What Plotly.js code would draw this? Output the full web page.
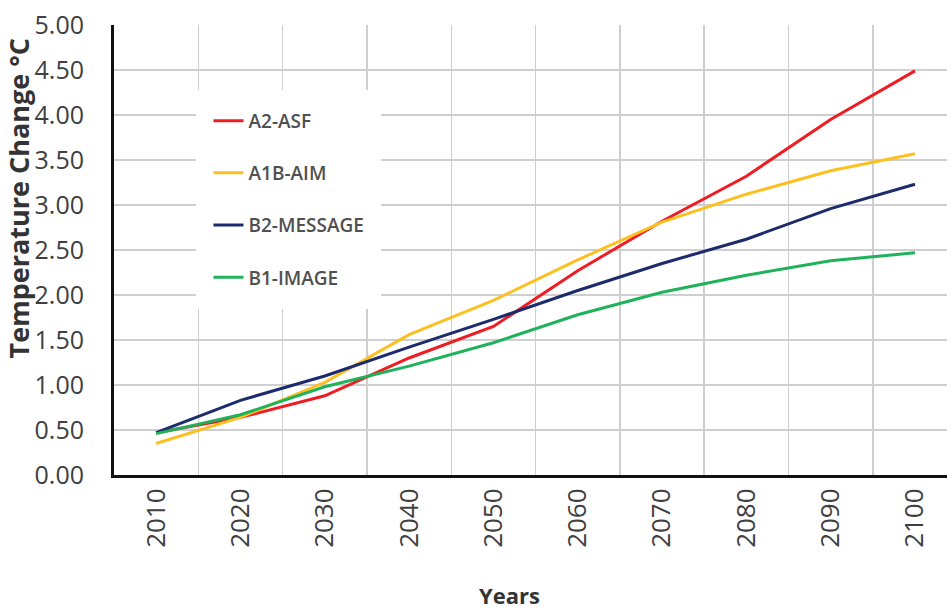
<!DOCTYPE html>
<html>
<head>
<meta charset="utf-8">
<script src="https://cdn.plot.ly/plotly-3.0.1.min.js"></script>
<style>html,body{margin:0;padding:0;background:#fff;}#chart{width:947px;height:610px;}</style>
</head>
<body>
<div id="chart"></div>
<script>
const years = ["2010","2020","2030","2040","2050","2060","2070","2080","2090","2100"];
const a2asf     = [0.47, 0.64, 0.88, 1.30, 1.65, 2.27, 2.82, 3.32, 3.95, 4.49];
const a1baim    = [0.35, 0.64, 1.03, 1.56, 1.94, 2.39, 2.81, 3.12, 3.38, 3.57];
const b2message = [0.47, 0.83, 1.10, 1.42, 1.73, 2.05, 2.35, 2.62, 2.96, 3.23];
const b1image   = [0.46, 0.67, 0.98, 1.21, 1.47, 1.78, 2.03, 2.22, 2.38, 2.47];
const seriesNames = ["A2-ASF","A1B-AIM","B2-MESSAGE","B1-IMAGE"];
const seriesColors = ["#EE1D23","#FCC020","#1C2B6B","#1FB25A"];
const seriesValues = [a2asf, a1baim, b2message, b1image];

const traces = seriesValues.map((vals, i) => ({
  x: years, y: vals, type: "scatter", mode: "lines",
  name: seriesNames[i], legendgroup: "g" + i,
  line: {color: seriesColors[i], width: 3}
}));

const font = "'Open Sans', 'Liberation Sans', sans-serif";
const layout = {
  width: 947, height: 610,
  margin: {l: 114, r: 0, t: 25, b: 135},
  paper_bgcolor: "#fff", plot_bgcolor: "#fff",
  font: {family: font, color: "#404040"},
  showlegend: true,
  legend: {
    x: 0.099, xanchor: "left", y: 0.856, yanchor: "top",
    bgcolor: "#ffffff", bordercolor: "#ffffff", borderwidth: 12,
    traceorder: "grouped", tracegroupgap: 24.5,
    font: {family: font, size: 19, color: "#505050", weight: 600},
    itemwidth: 30
  },
  xaxis: {
    type: "category", range: [-0.5, 9.38],
    tickson: "boundaries", showgrid: true, gridcolor: "#cfcfcf", gridwidth: 1.5,
    showline: true, linecolor: "#111", linewidth: 3,
    ticks: "", tickangle: -90,
    tickfont: {size: 26, color: "#404040"},
    zeroline: false, fixedrange: true
  },
  yaxis: {
    range: [0, 5], dtick: 0.5, tickformat: ".2f",
    showgrid: true, gridcolor: "#cfcfcf", gridwidth: 1.5,
    showline: true, linecolor: "#111", linewidth: 3,
    ticks: "outside", ticklen: 22, tickcolor: "rgba(0,0,0,0)",
    tickfont: {size: 25, color: "#404040"},
    zeroline: false, fixedrange: true
  },
  annotations: [
    {text: "Temperature Change °C", xref: "paper", yref: "paper",
     x: -0.115, y: 0.615, xanchor: "center", yanchor: "middle", textangle: -90,
     showarrow: false, font: {family: font, size: 27, color: "#333", weight: 700}},
    {text: "Years", xref: "paper", yref: "paper",
     x: 0.475, y: -0.266, xanchor: "center", yanchor: "middle",
     showarrow: false, font: {family: font, size: 22, color: "#333", weight: 700}}
  ]
};
Plotly.newPlot("chart", traces, layout, {staticPlot: true, displayModeBar: false});
</script>
</body>
</html>
